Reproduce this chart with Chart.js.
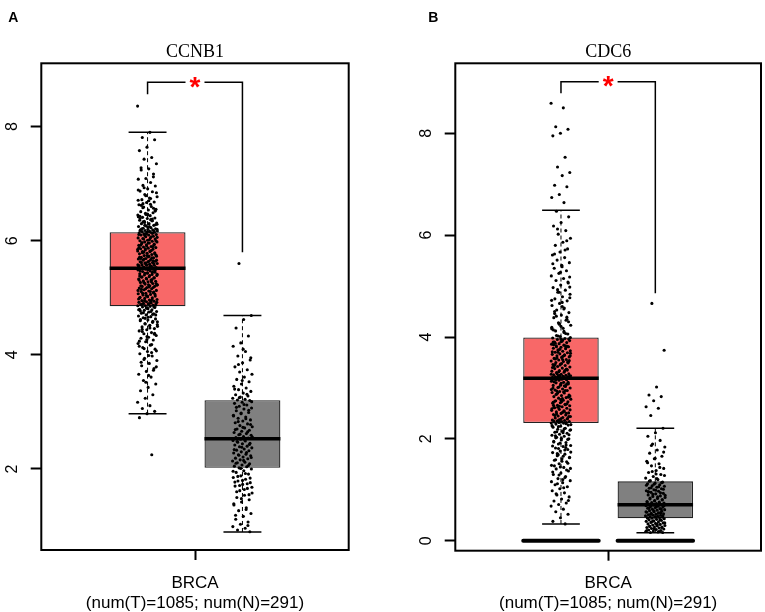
<!DOCTYPE html>
<html><head><meta charset="utf-8">
<script src="https://cdn.jsdelivr.net/npm/chart.js@4.4.1/dist/chart.umd.min.js"></script>
<style>
html,body{margin:0;padding:0;background:#fff;width:765px;height:612px;overflow:hidden}
.p{position:absolute;top:0;height:612px;width:382px}
#pa{left:0}#pb{left:383px}
</style></head><body>
<div class="p" id="pa"><canvas id="ca"></canvas></div>
<div class="p" id="pb"><canvas id="cb"></canvas></div>
<script>
// ---------- data ----------
const groups = ['Tumor', 'Normal'];
const groupPos = [1, 2];
const xLabel = ['BRCA', '(num(T)=1085; num(N)=291)'];
const titleA = 'CCNB1';
const titleB = 'CDC6';
const yTicksA = [2, 4, 6, 8];
const yTicksB = [0, 2, 4, 6, 8];

// box statistics: [lower whisker, Q1, median, Q3, upper whisker]
const boxA_T = [2.97, 4.85, 5.52, 6.15, 7.90];
const boxA_N = [0.896, 2.02, 2.53, 3.205, 4.69];
const boxB_T = [0.33, 2.31, 3.19, 3.99, 6.49];
const boxB_N = [0.157, 0.44, 0.707, 1.166, 2.21];

// significance bracket: [bar level, left drop end, right drop end]
const bracketA = [8.778, 8.568, 5.80];
const bracketB = [9.013, 8.785, 4.858];
const signifLabel = '*';

// thick line at zero (panel B), one value per group
const zeroB = [0, 0];

// individual expression values
const tumorA = [
8.36,7.90,7.81,7.77,7.64,7.58,7.46,7.43,7.35,7.26,
7.24,7.17,7.09,7.08,7.02,6.97,6.96,6.91,6.87,6.86,
6.81,6.77,6.75,6.72,6.68,6.67,6.63,6.6,6.59,6.55,
6.54,6.51,6.49,6.48,6.45,6.44,6.41,6.4,6.39,6.36,
6.35,6.34,6.31,6.3,6.3,6.27,6.26,6.25,6.23,6.22,
6.21,6.2,6.19,6.19,6.18,6.17,6.16,6.16,6.15,6.15,
6.14,6.14,6.12,6.11,6.1,6.1,6.08,6.07,6.05,6.05,
6.04,6.03,6.01,6.0,5.99,5.98,5.98,5.96,5.95,5.93,
5.93,5.92,5.9,5.89,5.88,5.87,5.86,5.85,5.84,5.82,
5.81,5.81,5.79,5.78,5.77,5.76,5.74,5.73,5.73,5.71,
5.7,5.69,5.68,5.67,5.66,5.64,5.63,5.63,5.62,5.61,
5.6,5.59,5.58,5.57,5.57,5.56,5.55,5.54,5.53,5.52,
5.51,5.5,5.5,5.49,5.47,5.46,5.45,5.44,5.42,5.41,
5.4,5.39,5.37,5.36,5.35,5.34,5.33,5.31,5.3,5.29,
5.28,5.27,5.25,5.24,5.23,5.21,5.2,5.2,5.18,5.17,
5.16,5.14,5.13,5.12,5.11,5.09,5.08,5.07,5.06,5.05,
5.03,5.02,5.01,5.0,4.99,4.97,4.96,4.95,4.94,4.93,
4.92,4.91,4.9,4.89,4.89,4.88,4.87,4.86,4.86,4.85,
4.84,4.83,4.82,4.8,4.79,4.78,4.76,4.75,4.73,4.72,
4.7,4.68,4.67,4.65,4.63,4.61,4.6,4.57,4.55,4.53,
4.51,4.49,4.46,4.44,4.42,4.39,4.37,4.34,4.31,4.29,
4.26,4.23,4.2,4.17,4.13,4.1,4.06,4.02,3.98,3.94,
3.9,3.85,3.81,3.76,3.71,3.66,3.61,3.55,3.49,3.43,
3.37,3.3,3.24,3.17,3.11,3.06,3.01,2.97,2.9,2.25,
6.93,6.84,6.7,6.62,6.57,6.46,6.42,6.37,6.33,6.28,
6.24,6.18,6.13,6.09,6.06,6.02,5.97,5.94,5.91,5.88,
5.83,5.8,5.75,5.72,5.69,5.65,5.61,5.58,5.55,5.51,
5.48,5.43,5.38,5.32,5.26,5.22,5.19,5.15,5.1,5.04,
4.98,4.94,4.9,4.87,4.81,4.77,4.71,4.64,4.58,4.52,
4.45,4.36,4.27,4.15,4.04,3.92,3.79,3.64,7.28,7.12,
6.79,6.71,6.64,6.58,6.52,6.47,6.43,6.38,6.32,6.29,
6.25,6.21,6.17,6.12,6.11,6.07,6.03,6.0,5.96,5.92,
5.9,5.86,5.85,5.82,5.79,5.77,5.74,5.71,5.7,5.68,
5.66,5.64,5.62,5.6,5.59,5.56,5.54,5.53,5.5,5.49,
5.47,5.45,5.43,5.41,5.39,5.37,5.35,5.33,5.31,5.28,
5.27,5.25,5.23,5.21,5.18,5.16,5.13,5.11,5.08,5.06,
5.03,5.0,4.97,4.95,4.92,4.9,4.88,4.84,4.82,4.79,
4.76,4.74,4.7,4.66,4.62,4.59,4.54,4.5,4.47,4.41,
4.38,4.32,4.24,4.18,4.11,4.07,3.99,3.87,3.73,3.52,
6.89,6.74,6.65,6.53,6.45,6.39,6.35,6.27,6.2,6.16
];
const normalA = [
5.6,4.69,4.62,4.47,4.33,4.21,4.15,4.06,3.98,3.91,
3.86,3.79,3.74,3.7,3.66,3.61,3.57,3.53,3.49,3.45,
3.42,3.39,3.36,3.33,3.3,3.28,3.26,3.24,3.22,3.21,
3.2,3.17,3.15,3.12,3.1,3.07,3.05,3.02,2.99,2.97,
2.94,2.91,2.89,2.86,2.84,2.81,2.79,2.76,2.74,2.72,
2.7,2.68,2.66,2.64,2.62,2.6,2.59,2.57,2.55,2.54,
2.52,2.5,2.49,2.47,2.45,2.44,2.42,2.4,2.39,2.37,
2.35,2.33,2.32,2.3,2.28,2.26,2.25,2.23,2.21,2.19,
2.18,2.16,2.14,2.12,2.11,2.09,2.07,2.05,2.04,2.02,
2.0,1.97,1.94,1.91,1.88,1.85,1.82,1.79,1.76,1.73,
1.7,1.66,1.62,1.58,1.54,1.5,1.46,1.42,1.37,1.32,
1.27,1.22,1.17,1.12,1.07,1.03,0.99,0.96,0.93,0.9,
3.55,3.4,3.31,3.25,3.18,3.13,3.08,3.03,2.98,2.93,
2.88,2.83,2.78,2.73,2.69,2.65,2.61,2.56,2.51,2.48,
2.43,2.38,2.34,2.29,2.24,2.2,2.15,2.1,2.06,2.01,
1.96,1.92,1.87,1.84,1.8,1.77,1.74,1.71,1.68,1.64,
1.6,1.55,1.48,1.39,1.29,3.83,3.95,4.1,1.19,1.01
];
const tumorB = [
8.59,8.5,8.13,8.08,8.0,7.95,7.53,7.34,7.23,7.17,
6.98,6.95,6.8,6.74,6.64,6.47,6.36,6.25,6.18,6.09,
6.02,5.94,5.86,5.8,5.73,5.67,5.61,5.56,5.51,5.46,
5.41,5.35,5.3,5.25,5.2,5.15,5.11,5.06,5.02,4.97,
4.92,4.88,4.84,4.79,4.75,4.71,4.66,4.62,4.57,4.53,
4.48,4.43,4.38,4.33,4.28,4.23,4.17,4.12,4.06,4.01,
3.98,3.97,3.95,3.93,3.92,3.9,3.89,3.87,3.86,3.84,
3.83,3.81,3.8,3.78,3.77,3.75,3.73,3.72,3.7,3.69,
3.67,3.66,3.64,3.63,3.61,3.6,3.58,3.56,3.55,3.53,
3.52,3.5,3.49,3.47,3.46,3.44,3.42,3.41,3.39,3.38,
3.36,3.34,3.33,3.31,3.3,3.28,3.27,3.26,3.25,3.24,
3.24,3.23,3.22,3.22,3.21,3.21,3.2,3.2,3.19,3.19,
3.18,3.16,3.15,3.13,3.11,3.1,3.08,3.06,3.05,3.03,
3.01,3.0,2.98,2.96,2.95,2.93,2.91,2.9,2.88,2.86,
2.85,2.83,2.81,2.8,2.78,2.76,2.75,2.73,2.71,2.7,
2.68,2.66,2.65,2.63,2.61,2.6,2.58,2.56,2.55,2.53,
2.51,2.5,2.48,2.47,2.45,2.44,2.42,2.41,2.4,2.38,
2.37,2.36,2.35,2.34,2.34,2.33,2.32,2.32,2.31,2.31,
2.29,2.27,2.25,2.23,2.21,2.19,2.17,2.15,2.13,2.11,
2.09,2.07,2.05,2.03,2.0,1.98,1.95,1.93,1.9,1.87,
1.85,1.82,1.79,1.76,1.73,1.7,1.67,1.64,1.61,1.58,
1.55,1.51,1.48,1.44,1.41,1.37,1.33,1.3,1.26,1.22,
1.18,1.14,1.1,1.06,1.02,0.98,0.94,0.9,0.86,0.82,
0.78,0.74,0.71,0.68,0.62,0.57,0.52,0.45,0.38,0.33,
4.93,4.77,4.6,4.46,4.35,4.26,4.19,4.09,4.03,3.96,
3.91,3.85,3.79,3.74,3.68,3.62,3.57,3.51,3.45,3.4,
3.34,3.28,3.23,3.17,3.12,3.07,3.02,2.97,2.92,2.87,
2.82,2.77,2.72,2.67,2.62,2.57,2.52,2.46,2.39,2.33,
2.26,2.2,2.14,2.08,2.01,1.94,1.88,1.81,1.74,1.66,
1.59,1.52,1.45,1.35,1.24,1.12,5.18,5.38,5.63,5.89,
4.88,4.72,4.55,4.41,4.3,4.21,4.14,4.07,4.02,3.99,
3.94,3.88,3.82,3.76,3.71,3.65,3.59,3.54,3.48,3.43,
3.37,3.32,3.27,3.21,3.16,3.11,3.06,3.0,2.95,2.9,
2.84,2.79,2.74,2.69,2.64,2.59,2.54,2.49,2.44,2.4,
2.35,2.3,2.24,2.18,2.12,2.06,1.99,1.92,1.86,1.78,
1.71,1.63,1.56,1.47,1.39,1.29,1.16,1.04,0.92,0.79,
3.96,3.9,3.83,3.7,3.63,3.56,3.46,3.35,3.25,3.14,
3.04,2.94,2.83,2.73,2.62,2.5,2.37,2.28,2.16,2.02,
5.08,5.27,5.44,5.71,6.12,4.98,4.68,4.5,4.39,4.25,
4.16,4.11,3.81,3.52,3.09,2.66,1.83,1.69,1.42,1.2
];
const normalB = [
4.66,3.74,3.02,2.86,2.83,2.75,2.63,2.6,2.46,2.21,
2.12,2.05,1.97,1.9,1.84,1.78,1.72,1.66,1.61,1.56,
1.51,1.47,1.42,1.38,1.34,1.3,1.26,1.23,1.2,1.18,
1.15,1.13,1.12,1.1,1.08,1.07,1.05,1.03,1.02,1.0,
0.98,0.97,0.95,0.93,0.92,0.9,0.88,0.87,0.85,0.83,
0.82,0.8,0.78,0.77,0.76,0.75,0.74,0.73,0.72,0.71,
0.7,0.69,0.68,0.67,0.66,0.65,0.64,0.63,0.62,0.61,
0.6,0.59,0.58,0.57,0.56,0.55,0.54,0.53,0.52,0.51,
0.5,0.5,0.49,0.48,0.47,0.46,0.46,0.45,0.45,0.44,
0.43,0.42,0.41,0.4,0.39,0.38,0.37,0.36,0.35,0.34,
0.33,0.32,0.31,0.3,0.29,0.28,0.27,0.27,0.26,0.25,
0.24,0.23,0.22,0.21,0.2,0.19,0.18,0.17,0.16,0.16,
1.62,1.53,1.44,1.36,1.28,1.22,1.17,1.14,1.11,1.09,
1.06,1.04,1.01,0.99,0.96,0.94,0.91,0.89,0.86,0.84,
0.81,0.79,0.76,0.74,0.72,0.69,0.67,0.64,0.62,0.59,
0.57,0.54,0.52,0.49,0.47,0.44,0.41,0.38,0.35,0.32,
0.29,0.26,0.23,0.2,0.18,1.87,1.74,1.31,0.96,0.55
];

// ---------- styling / layout ----------
const COLORS = ['#F86868', '#808080'];
const BOX_HALF = 0.4;     // half box width in x units
const CAP_HALF = 0.2;     // half whisker-cap width
const JITTER = 0.105;     // half jitter width
const GAP_HALF = 0.1;     // half gap in bracket for the star
const X_MIN = -0.12, X_MAX = 3.12;
const SANS = '"Liberation Sans", Arial, Helvetica, sans-serif';
const SERIF = '"Liberation Serif", "Times New Roman", serif';

const panels = [
  {canvas:'ca', title:titleA, letter:'A', yMin:0.58, yMax:9.11, yTicks:yTicksA,
   stats:[boxA_T, boxA_N], pts:[tumorA, normalA], bracket:bracketA, zero:null,
   frameLeft:41.3, frameRight:348.7, frameBottom:550, letterX:13.3},
  {canvas:'cb', title:titleB, letter:'B', yMin:-0.196, yMax:9.375, yTicks:yTicksB,
   stats:[boxB_T, boxB_N], pts:[tumorB, normalB], bracket:bracketB, zero:zeroB,
   frameLeft:72.3, frameRight:378.7, frameBottom:550.7, letterX:50.3}
];

const GOLD = 0.6180339887;
function jitterOffset(i) { const f = (i * GOLD) % 1; return (2 * f - 1) * JITTER; }

const extras = {
  id: 'extras',
  afterDatasetsDraw(chart, args, o) {
    const {ctx, chartArea: a, scales: {x, y}} = chart;
    ctx.save();
    ctx.strokeStyle = '#000';
    ctx.lineWidth = 2;
    ctx.strokeRect(a.left, a.top, a.right - a.left, a.bottom - a.top);
    const sx = x.getPixelForValue((groupPos[0] + groupPos[1]) / 2);
    const sy = y.getPixelForValue(o.bracketY);
    ctx.fillStyle = '#FF0000';
    ctx.font = 'bold 28px ' + SANS;
    ctx.textAlign = 'center';
    ctx.textBaseline = 'alphabetic';
    const m = ctx.measureText(signifLabel);
    const asc = m.actualBoundingBoxAscent, desc = m.actualBoundingBoxDescent;
    ctx.fillText(signifLabel, sx, sy + (asc - desc) / 2);
    ctx.fillStyle = '#000';
    ctx.font = 'bold 14px ' + SANS;
    ctx.textBaseline = 'middle';
    ctx.fillText(o.letter, o.letterX, 18.5);
    ctx.restore();
  }
};

function seg(pairs) {
  const out = [];
  pairs.forEach((pl, k) => {
    if (k > 0) out.push({x: pl[0][0], y: null});
    pl.forEach(p => out.push({x: p[0], y: p[1]}));
  });
  return out;
}

function build(p) {
  const datasets = [];
  datasets.push({
    type: 'bar',
    data: groupPos.map((g, k) => ({x: g, y: [p.stats[k][1], p.stats[k][3]]})),
    backgroundColor: COLORS,
    borderColor: '#222',
    borderWidth: 1.3,
    borderSkipped: false,
    barPercentage: 2 * BOX_HALF,
    categoryPercentage: 1,
    order: 6
  });
  const stems = [];
  groupPos.forEach((g, k) => {
    const s = p.stats[k];
    stems.push([[g, s[3]], [g, s[4]]]);
    stems.push([[g, s[0]], [g, s[1]]]);
  });
  datasets.push({type:'line', data: seg(stems), borderColor:'#000', borderWidth:1,
    borderDash:[4,3], pointRadius:0, fill:false, order:5});
  const caps = [];
  groupPos.forEach((g, k) => {
    const s = p.stats[k];
    caps.push([[g - CAP_HALF, s[4]], [g + CAP_HALF, s[4]]]);
    caps.push([[g - CAP_HALF, s[0]], [g + CAP_HALF, s[0]]]);
  });
  datasets.push({type:'line', data: seg(caps), borderColor:'#000', borderWidth:1.5,
    pointRadius:0, fill:false, order:4});
  groupPos.forEach((g, k) => {
    datasets.push({
      type: 'scatter',
      data: p.pts[k].map((v, i) => ({x: g + jitterOffset(i + 7 * k), y: v})),
      pointRadius: 1.55,
      pointBackgroundColor: '#000',
      pointBorderWidth: 0,
      showLine: false,
      order: 3
    });
  });
  const meds = groupPos.map((g, k) => [[g - BOX_HALF, p.stats[k][2]], [g + BOX_HALF, p.stats[k][2]]]);
  datasets.push({type:'line', data: seg(meds), borderColor:'#000', borderWidth:3.5,
    pointRadius:0, fill:false, order:2});
  if (p.zero) {
    const zl = groupPos.map((g, k) => [[g - BOX_HALF, p.zero[k]], [g + BOX_HALF, p.zero[k]]]);
    datasets.push({type:'line', data: seg(zl), borderColor:'#000', borderWidth:4,
      borderCapStyle:'round', pointRadius:0, fill:false, order:2});
  }
  const b = p.bracket;
  const mid = (groupPos[0] + groupPos[1]) / 2;
  const br = [
    [[groupPos[0], b[1]], [groupPos[0], b[0]], [mid - GAP_HALF, b[0]]],
    [[mid + GAP_HALF, b[0]], [groupPos[1], b[0]], [groupPos[1], b[2]]]
  ];
  datasets.push({type:'line', data: seg(br), borderColor:'#000', borderWidth:1.5,
    pointRadius:0, fill:false, order:1});

  return new Chart(document.getElementById(p.canvas), {
    type: 'scatter',
    data: {datasets},
    plugins: [extras],
    options: {
      responsive: true,
      maintainAspectRatio: false,
      animation: false,
      events: [],
      layout: {padding: {left: 0, right: 382 - p.frameRight, top: 0, bottom: 0}},
      plugins: {
        legend: {display: false},
        tooltip: {enabled: false},
        title: {display: true, text: p.title, fullSize: false, align: 'center', color: '#000',
          font: {family: SERIF, size: 18, weight: 'normal', lineHeight: 1.2},
          padding: {top: 41.2, bottom: 0.5}},
        extras: {bracketY: p.bracket[0], letter: p.letter, letterX: p.letterX}
      },
      scales: {
        x: {
          type: 'linear', min: X_MIN, max: X_MAX, display: false, offset: false,
          grid: {offset: false},
          afterBuildTicks: s => { s.ticks = []; }
        },
        xl: {
          type: 'linear', position: 'bottom', min: X_MIN, max: X_MAX, offset: false,
          afterBuildTicks: s => { s.ticks = [{value: (groupPos[0] + groupPos[1]) / 2}]; },
          afterFit: s => { s.height = 612 - p.frameBottom; },
          grid: {display: true, offset: false, drawOnChartArea: false, drawTicks: true, tickLength: 10, tickWidth: 2, tickColor: '#000'},
          border: {display: false},
          ticks: {color: '#000', font: {family: SANS, size: 17, lineHeight: 1.18}, padding: 13,
            maxRotation: 0, minRotation: 0, autoSkip: false, callback: () => xLabel}
        },
        y: {
          type: 'linear', min: p.yMin, max: p.yMax,
          afterBuildTicks: s => { s.ticks = p.yTicks.map(v => ({value: v})); },
          afterFit: s => { s.width = p.frameLeft; },
          grid: {display: true, drawOnChartArea: false, drawTicks: true, tickLength: 10.6, tickWidth: 2, tickColor: '#000'},
          border: {display: false},
          ticks: {color: '#000', font: {family: SANS, size: 16}, minRotation: 90, maxRotation: 90,
            crossAlign: 'center', padding: 14, autoSkip: false, callback: v => String(v)}
        }
      }
    }
  });
}
panels.forEach(build);
</script>
</body></html>
